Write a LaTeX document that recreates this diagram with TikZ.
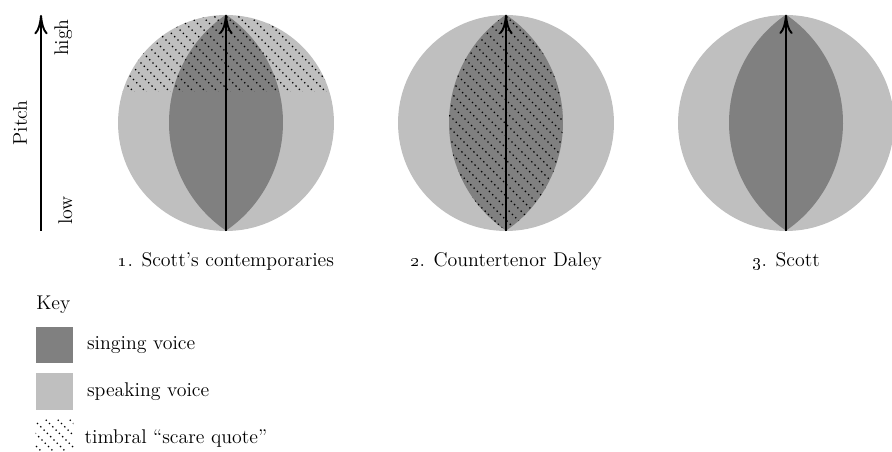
\documentclass[tikz,border=0pt]{standalone}
\usetikzlibrary{positioning,arrows.meta}
\definecolor{singgray}{gray}{0.5}
\definecolor{speakgray}{gray}{0.75}
\newcommand{\lenspath}[1]{(#1.north) arc[start angle=-55.65, end angle=55.65, radius=130.8] arc[start angle=124.35, end angle=235.65, radius=130.8] -- cycle}
\tikzset{
  ball/.style={circle, fill=speakgray, minimum size=4.32cm, inner sep=0pt},
  swatch/.style={rectangle, minimum size=0.74cm, inner sep=0pt},
  pitcharrow/.style={-{To[length=11pt,width=7.5pt]}, line width=1.1pt},
  hatch/.style={line width=0.75pt, dash pattern=on 0.75pt off 1.9pt},
}
\begin{document}
\begin{tikzpicture}[x=0.02cm, y=-0.02cm, font=\fontsize{11.3}{13.5}\selectfont]
  \useasboundingbox (0,0) rectangle (892,452);
  % Pitch axis
  \coordinate (axislow) at (41,231);
  \coordinate (axishigh) at (41,15);
  \draw[pitcharrow] (axislow) -- (axishigh);
  \node[rotate=90, anchor=base] (pitch) at (27,123) {Pitch};
  \node[rotate=90, anchor=base east] (high) at (68,13) {high};
  \node[rotate=90, anchor=base west] (low) at (72,231) {low};

  % Voices
  \node[ball] (ball1) at (226,123) {};
  \node[ball] (ball2) at (506,123) {};
  \node[ball] (ball3) at (786,123) {};
  \fill[singgray] \lenspath{ball1};
  \fill[singgray] \lenspath{ball2};
  \fill[singgray] \lenspath{ball3};

  % Scare quotes
  \begin{scope}
    \clip (ball1.center) circle[radius=108];
    \clip (100,15) rectangle (350,92);
    \foreach \a in {-114,-102,...,330} \draw[hatch] (\a,0) -- ++(250,250);
  \end{scope}
  \begin{scope}
    \clip \lenspath{ball2};
    \foreach \a in {166,178,...,610} \draw[hatch] (\a,0) -- ++(250,250);
  \end{scope}

  \draw[pitcharrow] (ball1.south) -- (ball1.north);
  \draw[pitcharrow] (ball2.south) -- (ball2.north);
  \draw[pitcharrow] (ball3.south) -- (ball3.north);

  \node[below=0.3cm of ball1] (cap1) {\oldstylenums{1}. Scott's contemporaries};
  \node[below=0.3cm of ball2] (cap2) {\oldstylenums{2}. Countertenor Daley};
  \node[below=0.3cm of ball3] (cap3) {\oldstylenums{3}. Scott};

  % Key
  \node[anchor=base west, inner sep=0pt] (keytitle) at (36,310) {Key};
  \node[swatch, fill=singgray] (keysing) at (54.5,345) {};
  \node[swatch, fill=speakgray] (keyspeak) at (54.5,391.5) {};
  \node[swatch] (keyhatch) at (54.5,438.5) {};
  \begin{scope}
    \clip (keyhatch.south west) rectangle (keyhatch.north east);
    \foreach \a in {-10,2,...,80} \draw[hatch] (\a,400) -- ++(60,60);
  \end{scope}
  \node[right=0.15cm of keysing] (labsing) {singing voice};
  \node[right=0.15cm of keyspeak] (labspeak) {speaking voice};
  \node[right=0.1cm of keyhatch] (labhatch) {timbral ``scare quote''};
\end{tikzpicture}
\end{document}
